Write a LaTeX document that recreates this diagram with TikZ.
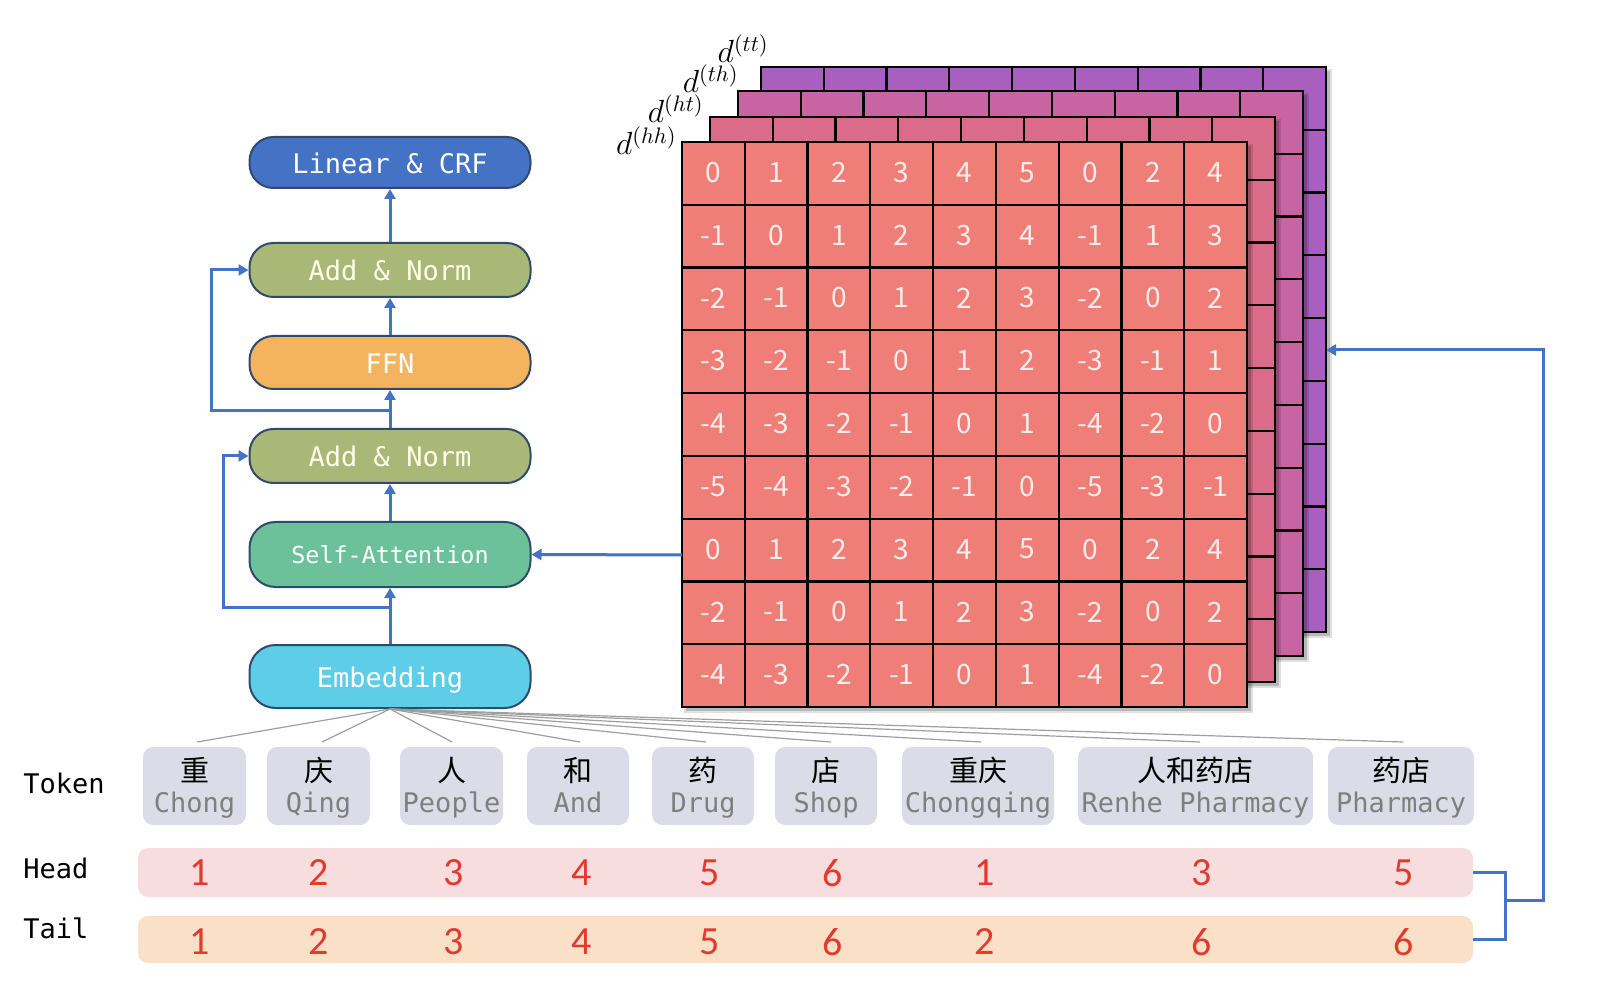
\RequirePackage{fix-cm}
\documentclass[tikz,border=0pt]{standalone}
\usepackage{fontspec}
\setmonofont{DejaVu Sans Mono}
\newfontfamily\cjk{Noto Sans CJK SC}
\newfontfamily\carl{Carlito}
\usetikzlibrary{arrows.meta,calc}
\definecolor{linblue}{HTML}{4472C4}
\definecolor{addgreen}{HTML}{A9B877}
\definecolor{ffnorange}{HTML}{F4B35E}
\definecolor{sagreen}{HTML}{6CC09A}
\definecolor{embcyan}{HTML}{5DCDE8}
\definecolor{modborder}{HTML}{2F4A6D}
\definecolor{arrowblue}{HTML}{4472C4}
\definecolor{hhc}{HTML}{EF7E79}
\definecolor{htc}{HTML}{DB6C89}
\definecolor{thc}{HTML}{C964A3}
\definecolor{ttc}{HTML}{A95FBE}
\definecolor{tokfill}{HTML}{DCDCE8}
\definecolor{headfill}{HTML}{F7DDDD}
\definecolor{tailfill}{HTML}{FAE0C6}
\definecolor{numred}{HTML}{E23A2E}
\definecolor{tokgray}{HTML}{7F7F7F}
\definecolor{cellnumc}{HTML}{FDEEE9}
\begin{document}
\begin{tikzpicture}[x=0.5pt,y=-0.5pt,
  module/.style={draw=modborder,line width=1pt,rounded corners=12pt,minimum width=140.5pt,
    text=white,font=\ttfamily\fontsize{13.5}{16}\selectfont,inner sep=0pt,
    text height=10.6pt,text depth=0pt},
  flow/.style={draw=arrowblue,line width=1.5pt,-{Triangle[width=5.5pt,length=5pt]}},
  flowline/.style={draw=arrowblue,line width=1.5pt},
  gridline/.style={draw=black,line width=1.1pt},
  cellnum/.style={text=cellnumc,font=\cjk\fontsize{14}{16}\selectfont,inner sep=0pt},
  tokbox/.style={fill=tokfill,rounded corners=5pt,minimum height=39pt,inner sep=0pt},
  zhtext/.style={font=\cjk\fontsize{14.5}{17}\selectfont,text=black,inner sep=0pt,
    text height=0.8em,text depth=0.1em},
  entext/.style={font=\ttfamily\fontsize{13.5}{16}\selectfont,text=tokgray,inner sep=0pt,
    text height=0.72em,text depth=0.22em},
  rowlabel/.style={font=\ttfamily\fontsize{13.5}{16}\selectfont,text=black,anchor=west,inner sep=0pt},
  bar/.style={rounded corners=5pt,minimum width=667.5pt,inner sep=0pt},
  num/.style={font=\carl\fontsize{20}{24}\selectfont,text=numred,inner sep=0pt},
  fanline/.style={draw=black!38,line width=0.6pt},
  layerlabel/.style={anchor=base east,inner sep=0pt,font=\fontsize{16}{19}\selectfont}
]
\useasboundingbox (0,0) rectangle (1620,1004);

% ---- stacked distance matrices ----
\foreach \lx/\ly/\col in {761/67/ttc,738/91/thc,710/117/htc,682/142/hhc}{
  \fill[black,opacity=0.12] (\lx+2,\ly+2) rectangle ++(569,569);
  \fill[black,opacity=0.18] (\lx+4,\ly+4) rectangle ++(565,565);
  \fill[\col] (\lx,\ly) rectangle ++(565,565);
  \foreach \i in {1,...,8}{
    \draw[gridline] (\lx+\i*62.78,\ly) -- ++(0,565);
    \draw[gridline] (\lx,\ly+\i*62.78) -- ++(565,0);
  }
  \draw[gridline] (\lx,\ly) rectangle ++(565,565);
}
\node[layerlabel] (lbltt) at (769,63) {$d^{(tt)}$};
\node[layerlabel] (lblth) at (739,93) {$d^{(th)}$};
\node[layerlabel] (lblht) at (704,123) {$d^{(ht)}$};
\node[layerlabel] (lblhh) at (677,155) {$d^{(hh)}$};

\foreach \row [count=\r] in {{0,1,2,3,4,5,0,2,4},{-1,0,1,2,3,4,-1,1,3},{-2,-1,0,1,2,3,-2,0,2},
  {-3,-2,-1,0,1,2,-3,-1,1},{-4,-3,-2,-1,0,1,-4,-2,0},{-5,-4,-3,-2,-1,0,-5,-3,-1},
  {0,1,2,3,4,5,0,2,4},{-2,-1,0,1,2,3,-2,0,2},{-4,-3,-2,-1,0,1,-4,-2,0}}{
  \foreach \v [count=\c] in \row {
    \node[cellnum] (m\r-\c) at ({682+(\c-0.5)*62.78},{141+(\r-0.5)*62.78}) {\v};
  }
}

% ---- transformer stack ----
\node[module,fill=linblue,minimum height=25.5pt] (lin) at (390,162.5) {Linear \& CRF};
\node[module,fill=addgreen,minimum height=27pt,text=white!92!yellow] (an1) at (390,270) {Add \& Norm};
\node[module,fill=ffnorange,minimum height=26.5pt] (ffn) at (390,362.5) {FFN};
\node[module,fill=addgreen,minimum height=27pt,text=white!92!yellow] (an2) at (390,456) {Add \& Norm};
\node[module,fill=sagreen,minimum height=32.5pt,rounded corners=13pt,text height=9.2pt,font=\ttfamily\fontsize{11.7}{14}\selectfont] (sa) at (390,554.5) {Self-Attention};
\node[module,fill=embcyan,minimum height=31.5pt,rounded corners=13pt] (emb) at (390,676.5) {Embedding};

\draw[flow] (emb.north) -- (sa.south);
\draw[flow] (sa.north) -- (an2.south);
\draw[flow] (an2.north) -- (ffn.south);
\draw[flow] (ffn.north) -- (an1.south);
\draw[flow] (an1.north) -- (lin.south);
\coordinate (sk1) at (390,607);
\draw[flow] (sk1) -- (223,607) |- (an2.west);
\coordinate (sk2) at (390,411);
\draw[flow] (sk2) -- (211,411) |- (an1.west);
\coordinate (mL) at (682,555);
\draw[flow] (mL) -- (sa.east);

% ---- tokens ----
\node[rowlabel] (toklbl) at (23,783) {Token};
\node[rowlabel] (headlbl) at (23,868) {Head};
\node[rowlabel] (taillbl) at (23,928) {Tail};

\foreach \l/\r/\zh/\en/\fx [count=\i] in {143/246/重/Chong/197, 267/370/庆/Qing/322, 400/503/人/People/452,
  527/629/和/And/580, 652/754/药/Drug/706, 775/877/店/Shop/831, 902/1054/重庆/Chongqing/981,
  1078/1313/人和药店/{Renhe Pharmacy}/1200, 1328/1474/药店/Pharmacy/1403}{
  \node[tokbox,minimum width={(\r-\l)*0.5pt}] (tok\i) at ({(\l+\r)/2},786) {};
  \node[zhtext] (zh\i) at ({(\l+\r)/2},774) {\zh};
  \node[entext] (en\i) at ({(\l+\r)/2},807.5) {\en};
  \coordinate (fan\i) at (\fx,742);
  \draw[fanline] (emb.south) -- (fan\i);
}

% ---- head / tail ----
\node[bar,fill=headfill,minimum height=24.5pt] (head) at (805.5,872.5) {};
\node[bar,fill=tailfill,minimum height=23.5pt] (tail) at (805.5,939.5) {};
\foreach \x/\h/\t [count=\i] in {200/1/1,319/2/2,454/3/3,582/4/4,710/5/5,833/6/6,985/1/2,1202/3/6,1404/5/6}{
  \node[num] (h\i) at (\x,873) {\h};
  \node[num] (t\i) at (\x,942) {\t};
}

\draw[flowline] (head.east) -- (1505,872.5) -- (1505,939.5) -- (tail.east);
\coordinate (jn) at (1505,900);
\coordinate (ttR) at (1326,350);
\draw[flow] (jn) -- (1543,900) |- (ttR);
\end{tikzpicture}
\end{document}
